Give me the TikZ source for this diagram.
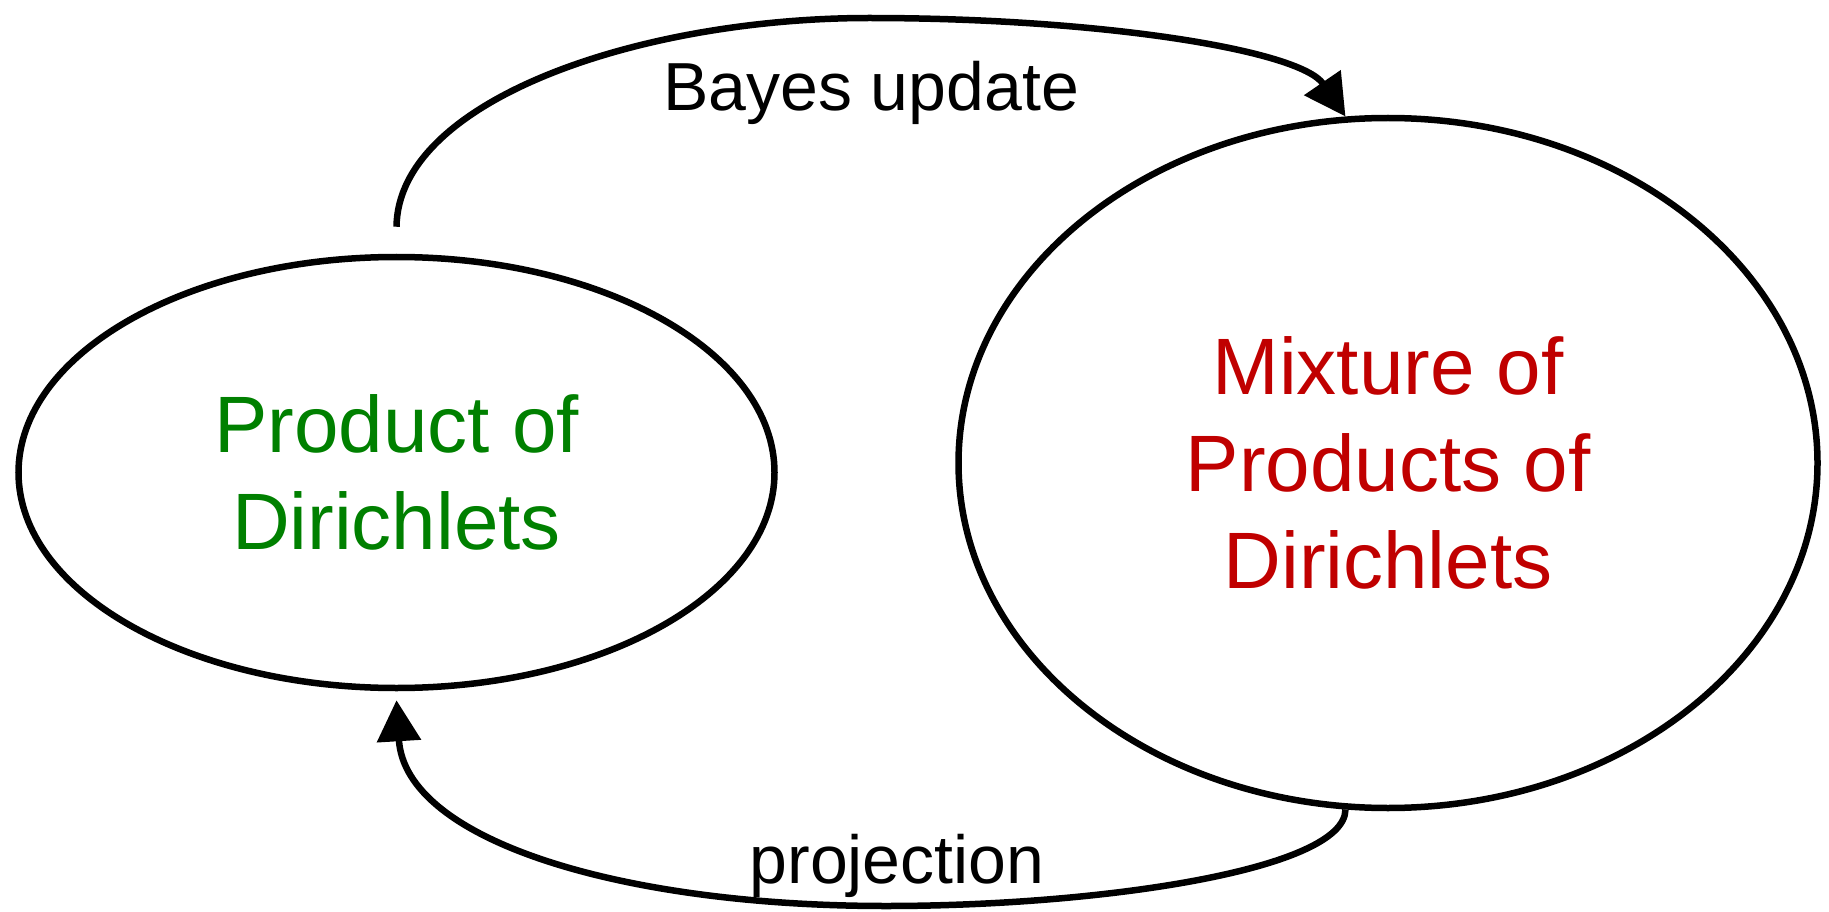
\documentclass[tikz,border=0pt]{standalone}
\usepackage{fontspec}
\setmainfont{Liberation Sans}
\usetikzlibrary{shapes.geometric,arrows.meta}
\definecolor{dgreen}{RGB}{0,128,0}
\definecolor{dred}{RGB}{192,0,0}
\begin{document}
\begin{tikzpicture}[x=1pt,y=-1pt,
  state/.style={draw, line width=6.5pt, ellipse, inner sep=0pt, align=center, font=\fontsize{80}{97}\selectfont},
  flow/.style={line width=6.5pt, -{Triangle[length=41pt,width=43pt]}},
  lbl/.style={font=\fontsize{68}{80}\selectfont, anchor=base, inner sep=0pt}]
\useasboundingbox (0,0) rectangle (1829,912);
\node[state, minimum width=756pt, minimum height=431pt, text=dgreen] (L) at (396.5,472.5) {Product of\\Dirichlets};
\node[state, minimum width=859pt, minimum height=690pt, text=dred] (R) at (1388,463) {Mixture of\\Products of\\Dirichlets};
\coordinate (ts) at ([yshift=27pt]L.north);
\coordinate (be) at ([yshift=-9pt]L.south);
\draw[flow] (ts) .. controls (398,100) and (640,18) .. (869,18) .. controls (1100,18) and (1300,50) .. (R.97);
\draw[flow] (R.263) .. controls (1345,870) and (1100,906) .. (886,906) .. controls (620,906) and (405,840) .. (be);
\node[lbl] (bu) at (871,111) {Bayes update};
\node[lbl] (pr) at (897,883) {projection};
\end{tikzpicture}
\end{document}
